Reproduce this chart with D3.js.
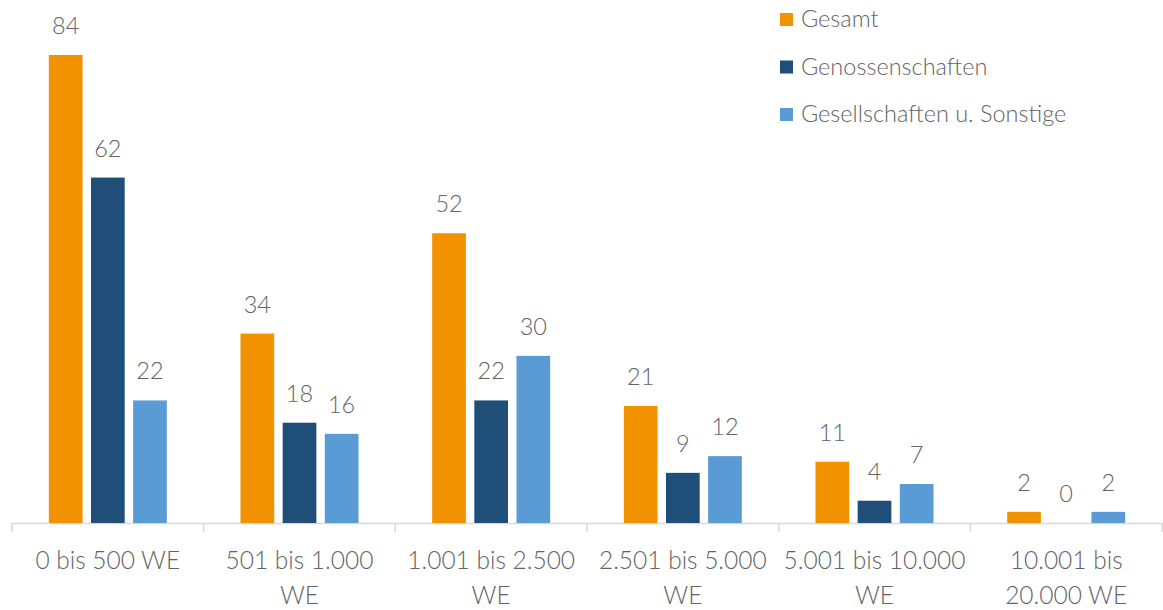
<!DOCTYPE html>
<html>
<head>
<meta charset="utf-8">
<script src="https://cdn.jsdelivr.net/npm/d3@7"></script>
<style>
body{margin:0;background:#fff;}
text{font-family:Lato,"Open Sans",sans-serif;font-weight:300;fill:#636363;}
</style>
</head>
<body>
<div id="plot"></div>
<script>
var width = 1163, height = 610;

// data
var categories = [
	['0 bis 500 WE'],
	['501 bis 1.000', 'WE'],
	['1.001 bis 2.500', 'WE'],
	['2.501 bis 5.000', 'WE'],
	['5.001 bis 10.000', 'WE'],
	['10.001 bis', '20.000 WE']];
var seriesNames = ['Gesamt', 'Genossenschaften', 'Gesellschaften u. Sonstige'];
var gesamt = [84, 34, 52, 21, 11, 2];
var genossenschaften = [62, 18, 22, 9, 4, 0];
var gesellschaften = [22, 16, 30, 12, 7, 2];
var colors = ['#f39200', '#1f4e79', '#5b9bd5'];

var values = [gesamt, genossenschaften, gesellschaften];

var svg = d3.select('#plot')
	.append('svg')
	.attr('width', width)
	.attr('height', height);

var x0 = d3.scaleBand().domain(d3.range(categories.length)).range([12, 1162]).padding(0);
var x1 = d3.scaleBand().domain(d3.range(seriesNames.length))
	.range([x0.bandwidth()/2 - 59, x0.bandwidth()/2 + 59])
	.paddingInner(0.2).paddingOuter(0);
var y = d3.scaleLinear().domain([0, 84]).range([523, 55]);
var color = d3.scaleOrdinal().domain(d3.range(3)).range(colors);

// axis
var axis = svg.append('g')
	.attr('transform', 'translate(0,523)')
	.call(d3.axisBottom(x0).tickValues([]).tickSizeOuter(0));
axis.select('.domain').attr('stroke', '#d9d9d9').attr('stroke-width', 1.5);

var ticks = d3.range(categories.length + 1).map(function(i){
	return i < categories.length ? x0(i) : x0(i-1) + x0.bandwidth();
});
axis.selectAll('.sep')
	.data(ticks)
	.enter()
	.append('line')
	.attr('class', 'sep')
	.attr('x1', function(d){ return d })
	.attr('x2', function(d){ return d })
	.attr('y1', 0)
	.attr('y2', 9)
	.attr('stroke', '#d9d9d9')
	.attr('stroke-width', 1.5);

// category labels
var catLabels = svg.selectAll('.cat')
	.data(categories)
	.enter()
	.append('text')
	.attr('class', 'cat')
	.attr('text-anchor', 'middle')
	.attr('font-size', 24.5)
	.attr('x', function(d, i){ return x0(i) + x0.bandwidth()/2 })
	.attr('y', 569);
catLabels.selectAll('tspan')
	.data(function(d){ return d })
	.enter()
	.append('tspan')
	.attr('x', function(){ return d3.select(this.parentNode).attr('x') })
	.attr('dy', function(d, i){ return i == 0 ? 0 : 35 })
	.text(function(d){ return d });

// bars
var groups = svg.selectAll('.group')
	.data(categories)
	.enter()
	.append('g')
	.attr('class', 'group')
	.attr('transform', function(d, i){ return 'translate(' + x0(i) + ',0)' });

groups.selectAll('rect')
	.data(function(d, i){ return values.map(function(v, s){ return {s: s, v: v[i]} }) })
	.enter()
	.append('rect')
	.attr('x', function(d){ return x1(d.s) })
	.attr('width', x1.bandwidth())
	.attr('y', function(d){ return y(d.v) })
	.attr('height', function(d){ return y(0) - y(d.v) })
	.attr('fill', function(d){ return color(d.s) });

groups.selectAll('.val')
	.data(function(d, i){ return values.map(function(v, s){ return {s: s, v: v[i]} }) })
	.enter()
	.append('text')
	.attr('class', 'val')
	.attr('text-anchor', 'middle')
	.attr('font-size', 23.5)
	.attr('x', function(d){ return x1(d.s) + x1.bandwidth()/2 })
	.attr('y', function(d){ return y(d.v) - 21 })
	.text(function(d){ return d.v });

// legend
var legend = svg.selectAll('.legend')
	.data(seriesNames)
	.enter()
	.append('g')
	.attr('class', 'legend')
	.attr('transform', function(d, i){ return 'translate(780,' + (13 + i*47.5) + ')' });

legend.append('rect')
	.attr('width', 13)
	.attr('height', 13)
	.attr('fill', function(d, i){ return color(i) });

legend.append('text')
	.attr('x', 21)
	.attr('y', 14)
	.attr('font-size', 23.5)
	.text(function(d){ return d });
</script>
</body>
</html>
